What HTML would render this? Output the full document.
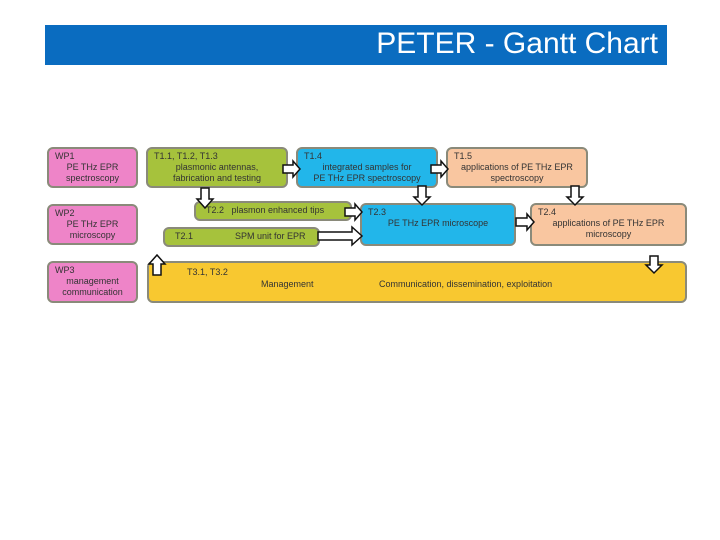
<!DOCTYPE html>
<html><head><meta charset="utf-8"><style>
body{margin:0;width:720px;height:540px;background:#fff;position:relative;overflow:hidden;font-family:"Liberation Sans",sans-serif}
.t{position:absolute;background:#0a6cc0;left:45px;top:25px;width:622px;height:40px;color:#fff;font-size:30px;line-height:38px;text-align:right;box-sizing:border-box;padding-right:9px}
.b{position:absolute;box-sizing:border-box;border:2px solid #8a8a7a;border-radius:6px;font-size:9px;line-height:11px;color:#333;padding:2px 6px}
.p{background:#ee84c8}.g{background:#a6c23c}.c{background:#22b6ea}.o{background:#f9c6a0}.y{background:#f8c830}
.ctr{text-align:center}
svg{position:absolute;left:0;top:0}
</style></head><body>
<div class="t">PETER - Gantt Chart</div>
<div class="b p" style="left:47px;top:147px;width:91px;height:41px">WP1<div class="ctr">PE THz EPR<br>spectroscopy</div></div>
<div class="b p" style="left:47px;top:204px;width:91px;height:41px">WP2<div class="ctr">PE THz EPR<br>microscopy</div></div>
<div class="b p" style="left:47px;top:261px;width:91px;height:42px">WP3<div class="ctr">management<br>communication</div></div>
<div class="b g" style="left:146px;top:147px;width:142px;height:41px">T1.1, T1.2, T1.3<div class="ctr">plasmonic antennas,<br>fabrication and testing</div></div>
<div class="b c" style="left:296px;top:147px;width:142px;height:41px">T1.4<div class="ctr">integrated samples for<br>PE THz EPR spectroscopy</div></div>
<div class="b o" style="left:446px;top:147px;width:142px;height:41px">T1.5<div class="ctr">applications of PE THz EPR<br>spectroscopy</div></div>
<div class="b g" style="left:194px;top:201px;width:158px;height:20px;padding:2px 10px">T2.2 &nbsp;&nbsp;plasmon enhanced tips</div>
<div class="b g" style="left:163px;top:227px;width:157px;height:20px;padding:2px 10px">T2.1<span style="margin-left:42px">SPM unit for EPR</span></div>
<div class="b c" style="left:360px;top:203px;width:156px;height:43px">T2.3<div class="ctr">PE THz EPR microscope</div></div>
<div class="b o" style="left:530px;top:203px;width:157px;height:43px">T2.4<div class="ctr">applications of PE THz EPR<br>microscopy</div></div>
<div class="b y" style="left:147px;top:261px;width:540px;height:42px;padding:4px 38px">T3.1, T3.2<div style="position:absolute;left:112px;top:16px">Management</div><div style="position:absolute;left:230px;top:16px">Communication, dissemination, exploitation</div></div>
<svg width="720" height="540" fill="#fff" stroke="#111" stroke-width="1.5">
<polygon points="283,165 293,165 293,161 300,169 293,177 293,173 283,173"/>
<polygon points="431,165 441,165 441,161 448,169 441,177 441,173 431,173"/>
<polygon points="345,208 355,208 355,204 362,212 355,220 355,216 345,216"/>
<polygon points="318,232 352,232 352,227 362,236 352,245 352,240 318,240"/>
<polygon points="516,218 527,218 527,214 534,222 527,230 527,226 516,226"/>
<polygon points="201,188 209,188 209,199 213,199 205,208 197,199 201,199"/>
<polygon points="418,186 426,186 426,197 430,197 422,205 414,197 418,197"/>
<polygon points="571,186 579,186 579,197 583,197 575,205 567,197 571,197"/>
<polygon points="650,256 658,256 658,265 662,265 654,273 646,265 650,265"/>
<polygon points="153,275 161,275 161,264 165,264 157,255 149,264 153,264"/>
</svg>
</body></html>
